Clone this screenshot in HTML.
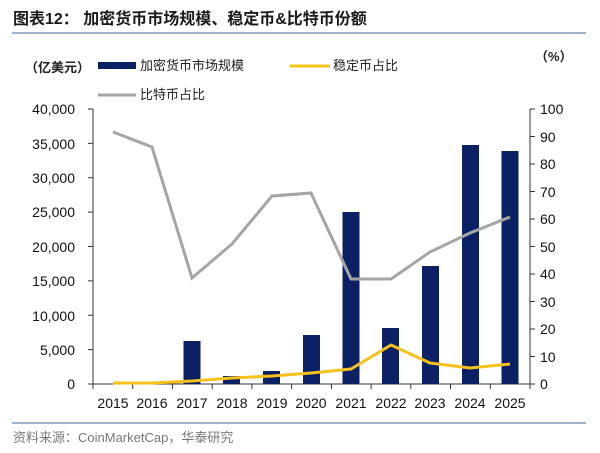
<!DOCTYPE html><html><head><meta charset="utf-8"><style>body{margin:0;background:#fff}svg{display:block}text{font-family:"Liberation Sans","Noto Sans CJK SC",sans-serif}</style></head><body>
<svg width="600" height="453" viewBox="0 0 600 453">
<text x="13" y="24" font-size="16" font-weight="bold" fill="#1a1a1a">图表12：  加密货币市场规模、稳定币&amp;比特币份额</text>
<line x1="12" y1="33" x2="586" y2="33" stroke="#7e9bb7" stroke-width="1.5"/>
<text x="25" y="72" font-size="13" font-weight="bold" fill="#222">（亿美元）</text>
<rect x="98" y="62" width="38" height="7" fill="#0b2163"/><text x="140" y="70" font-size="13" fill="#222">加密货币市场规模</text>
<line x1="290" y1="66" x2="330" y2="66" stroke="#f5c11b" stroke-width="3"/><text x="333" y="70" font-size="13" fill="#222">稳定币占比</text>
<line x1="98" y1="95" x2="136" y2="95" stroke="#a5a5a5" stroke-width="3"/><text x="140" y="99" font-size="13" fill="#222">比特币占比</text>
<text x="535" y="61" font-size="13" font-weight="bold" fill="#222">（%）</text>
<g font-size="14" fill="#111" text-anchor="end">
<text x="75" y="114">40,000</text><text x="75" y="149">35,000</text><text x="75" y="183">30,000</text><text x="75" y="217">25,000</text><text x="75" y="252">20,000</text><text x="75" y="286">15,000</text><text x="75" y="321">10,000</text><text x="75" y="355">5,000</text><text x="75" y="389">0</text></g>
<g font-size="14" fill="#111">
<text x="540" y="114">100</text><text x="540" y="142">90</text><text x="540" y="169">80</text><text x="540" y="197">70</text><text x="540" y="224">60</text><text x="540" y="252">50</text><text x="540" y="279">40</text><text x="540" y="307">30</text><text x="540" y="334">20</text><text x="540" y="362">10</text><text x="540" y="389">0</text></g>
<g stroke="#333" stroke-width="1">
<line x1="93" y1="109" x2="93" y2="384"/><line x1="530" y1="109" x2="530" y2="384"/><line x1="93" y1="384" x2="530" y2="384"/>
<path d="M88 109h5M88 143.4h5M88 177.8h5M88 212.1h5M88 246.5h5M88 280.9h5M88 315.3h5M88 349.6h5M88 384h5"/>
<path d="M530 109h5M530 136.5h5M530 164h5M530 191.5h5M530 219h5M530 246.5h5M530 274h5M530 301.5h5M530 329h5M530 356.5h5M530 384h5"/>
<path d="M93 384v5M132.7 384v5M172.5 384v5M212.2 384v5M251.9 384v5M291.6 384v5M331.4 384v5M371.1 384v5M410.8 384v5M450.5 384v5M490.3 384v5M530 384v5"/>
</g>
<g fill="#0b2163">
<rect x="183.5" y="341" width="17" height="43"/><rect x="223" y="376" width="17" height="8"/><rect x="263" y="371" width="17" height="13"/><rect x="303" y="335" width="17" height="49"/><rect x="342.5" y="212" width="17" height="172"/><rect x="382" y="328" width="17" height="56"/><rect x="422" y="266" width="17" height="118"/><rect x="462" y="145" width="17" height="239"/><rect x="501.5" y="151" width="17" height="233"/></g>
<polyline fill="none" stroke="#a5a5a5" stroke-width="3" points="113,132 152,147 192,278 232,244 272,196 311,193 351,279 391,279 430,252 470,233 510,217"/>
<polyline fill="none" stroke="#f5c11b" stroke-width="3" stroke-linejoin="round" points="113,383 152,383 192,381 232,378 272,376 311,373 351,369 391,345 430,363 470,368 510,364"/>
<g font-size="14" fill="#111" text-anchor="middle">
<text x="113" y="408">2015</text><text x="152" y="408">2016</text><text x="192" y="408">2017</text><text x="232" y="408">2018</text><text x="272" y="408">2019</text><text x="311" y="408">2020</text><text x="351" y="408">2021</text><text x="391" y="408">2022</text><text x="430" y="408">2023</text><text x="470" y="408">2024</text><text x="510" y="408">2025</text></g>
<line x1="12" y1="423" x2="586" y2="423" stroke="#7e9bb7" stroke-width="1.5"/>
<text x="13" y="442" font-size="13" fill="#777">资料来源：CoinMarketCap，华泰研究</text>
</svg></body></html>
